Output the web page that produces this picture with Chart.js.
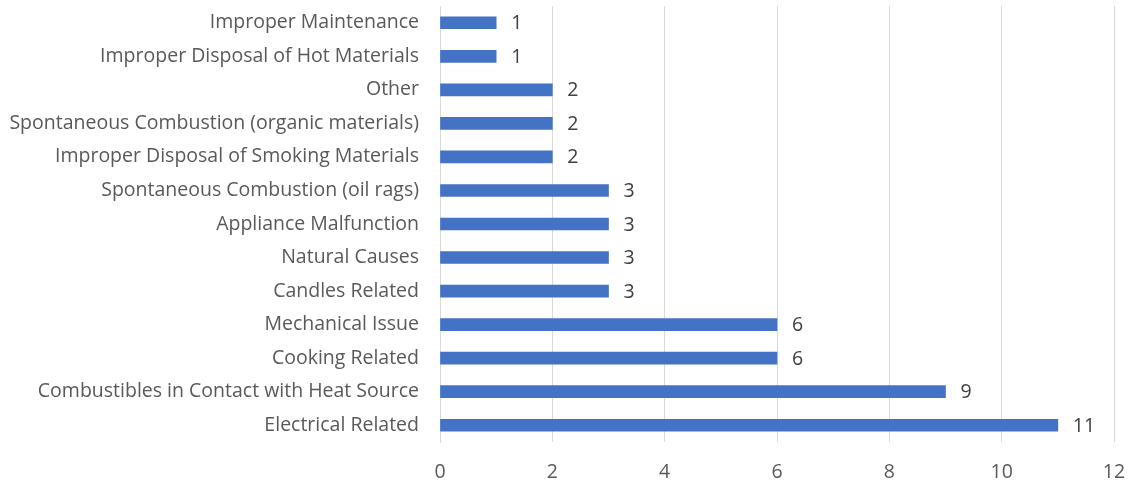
<!DOCTYPE html>
<html><head><meta charset="utf-8">
<script src="https://cdn.jsdelivr.net/npm/chart.js@4/dist/chart.umd.min.js"></script>
<style>html,body{margin:0;padding:0;background:#fff}#wrap{width:1141px;height:480px}</style>
</head><body><div id="wrap"><canvas id="c"></canvas></div>
<script>
const categories = ["Improper Maintenance","Improper Disposal of Hot Materials","Other","Spontaneous Combustion (organic materials)","Improper Disposal of Smoking Materials","Spontaneous Combustion (oil rags)","Appliance Malfunction","Natural Causes","Candles Related","Mechanical Issue","Cooking Related","Combustibles in Contact with Heat Source","Electrical Related"];
const counts = [1,1,2,2,2,3,3,3,3,6,6,9,11];
const xTicks = [0,2,4,6,8,10,12];

const FONT = "'Open Sans', sans-serif";
const FSIZE = 19.5;
const labelPlugin = {
  id: 'valLabels',
  afterDatasetsDraw(chart) {
    const ctx = chart.ctx;
    const meta = chart.getDatasetMeta(0);
    ctx.save();
    ctx.font = FSIZE + "px " + FONT;
    ctx.fillStyle = '#404040';
    ctx.textAlign = 'left';
    ctx.textBaseline = 'middle';
    meta.data.forEach((bar, i) => {
      ctx.fillText(String(counts[i]), bar.x + 15, bar.y + 1);
    });
    ctx.restore();
  }
};

new Chart(document.getElementById('c'), {
  type: 'bar',
  data: { labels: categories, datasets: [{ data: counts, backgroundColor: '#4472C4', barThickness: 12 }] },
  options: {
    indexAxis: 'y', responsive: true, maintainAspectRatio: false, animation: false,
    layout: { padding: { top: 6, right: 27, left: 0, bottom: 0 } },
    plugins: { legend: { display: false }, tooltip: { enabled: false } },
    scales: {
      x: {
        min: 0, max: 12,
        afterBuildTicks(s) { s.ticks = xTicks.map(v => ({ value: v })); },
        afterFit(s) { s.height = 38; s.paddingLeft = 0; s.paddingRight = 0; },
        grid: { color: '#d9d9d9', lineWidth: 1, drawTicks: false },
        border: { display: false },
        ticks: { color: '#595959', font: { family: FONT, size: FSIZE }, padding: 19 }
      },
      y: {
        afterFit(s) { s.width = 440; s.paddingTop = 0; s.paddingBottom = 0; },
        grid: { display: false, drawTicks: false },
        border: { display: true, color: '#d9d9d9', width: 1 },
        ticks: { color: '#595959', font: { family: FONT, size: FSIZE }, padding: 21, autoSkip: false }
      }
    }
  },
  plugins: [labelPlugin]
});
</script></body></html>
